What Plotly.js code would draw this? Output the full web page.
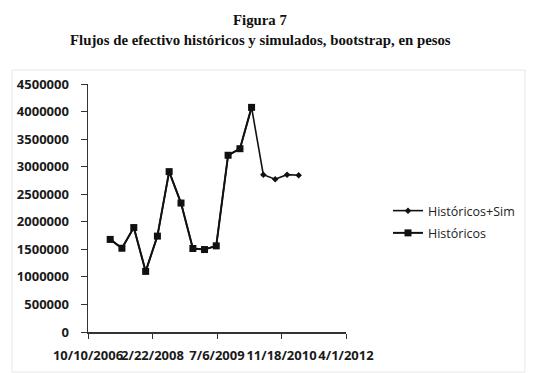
<!DOCTYPE html>
<html>
<head>
<meta charset="utf-8">
<script src="https://cdn.plot.ly/plotly-3.0.1.min.js"></script>
<style>html,body{margin:0;padding:0;background:#fff;}#chart{width:535px;height:373px;}</style>
</head>
<body>
<div id="chart"></div>
<script>
const dates = ['2007-03-31','2007-06-30','2007-09-30','2007-12-31','2008-03-31','2008-06-30','2008-09-30','2008-12-31','2009-03-31','2009-06-30','2009-09-30','2009-12-31','2010-03-31','2010-06-30','2010-09-30','2010-12-31','2011-03-31'];
const histSim = [1680000,1520000,1895000,1100000,1740000,2910000,2340000,1515000,1496000,1563000,3207000,3326000,4076000,2855000,2772000,2855000,2844000];
const histDates = dates.slice(0,13);
const hist = histSim.slice(0,13);
const tickVals = ['2006-10-10','2008-02-22','2009-07-06','2010-11-18','2012-04-01'];
const tickText = ['10/10/2006','2/22/2008','7/6/2009','11/18/2010','4/1/2012'];
const yTicks = [0,500000,1000000,1500000,2000000,2500000,3000000,3500000,4000000,4500000];

const traces = [
  {x: dates, y: histSim, name: 'Históricos+Sim', type: 'scatter', mode: 'lines+markers',
   legendgroup: 'a',
   line: {color: '#111', width: 1.6}, marker: {symbol: 'diamond', size: 5, color: '#111'}},
  {x: histDates, y: hist, name: 'Históricos', type: 'scatter', mode: 'lines+markers',
   legendgroup: 'b',
   line: {color: '#111', width: 2}, marker: {symbol: 'square', size: 7, color: '#111'}}
];

const W = 258, H = 248;
function px(x){return (x-88)/W;}
function py(y){return (332-y)/H;}

const tickFont = {family: 'Open Sans, Liberation Sans, sans-serif', size: 13, color: '#1a1a1a', weight: 'bold'};

const layout = {
  width: 535, height: 373,
  margin: {l: 88, r: 189, t: 84, b: 41},
  paper_bgcolor: '#fff', plot_bgcolor: '#fff',
  showlegend: true,
  legend: {x: px(388), y: py(196), xanchor: 'left', yanchor: 'top', tracegroupgap: 3,
           font: {family: 'Open Sans, Liberation Sans, sans-serif', size: 12.5, color: '#222'},
           bgcolor: 'rgba(0,0,0,0)'},
  xaxis: {type: 'date', range: [tickVals[0], tickVals[4]], tickvals: tickVals, ticktext: tickText,
          showgrid: false, zeroline: false, showline: true, linecolor: '#333', linewidth: 1.5,
          ticks: 'outside', ticklen: 5, tickcolor: '#333', tickangle: 0, ticklabelstandoff: 6,
          tickfont: tickFont},
  yaxis: {range: [0, 4500000], tickvals: yTicks, ticktext: yTicks.map(String),
          showgrid: false, zeroline: false, showline: true, linecolor: '#333', linewidth: 1.5,
          ticks: 'outside', ticklen: 6, tickcolor: '#333', ticklabelstandoff: 9,
          tickfont: tickFont},
  shapes: [
    {type: 'rect', xref: 'paper', yref: 'paper', x0: px(12), x1: px(525), y0: py(372), y1: py(70),
     line: {color: '#e6e6e6', width: 1}, fillcolor: 'rgba(0,0,0,0)', layer: 'below'}
  ],
  annotations: [
    {text: '<b>Figura 7</b>', xref: 'paper', yref: 'paper', x: px(260), y: py(20), xanchor: 'center', yanchor: 'middle',
     showarrow: false, font: {family: 'Liberation Serif, Times New Roman, serif', size: 14.8, color: '#111'}},
    {text: '<b>Flujos de efectivo históricos y simulados, bootstrap, en pesos</b>', xref: 'paper', yref: 'paper',
     x: px(260), y: py(40), xanchor: 'center', yanchor: 'middle',
     showarrow: false, font: {family: 'Liberation Serif, Times New Roman, serif', size: 14.8, color: '#111'}}
  ]
};

Plotly.newPlot('chart', traces, layout, {displayModeBar: false, staticPlot: true});
</script>
</body>
</html>
